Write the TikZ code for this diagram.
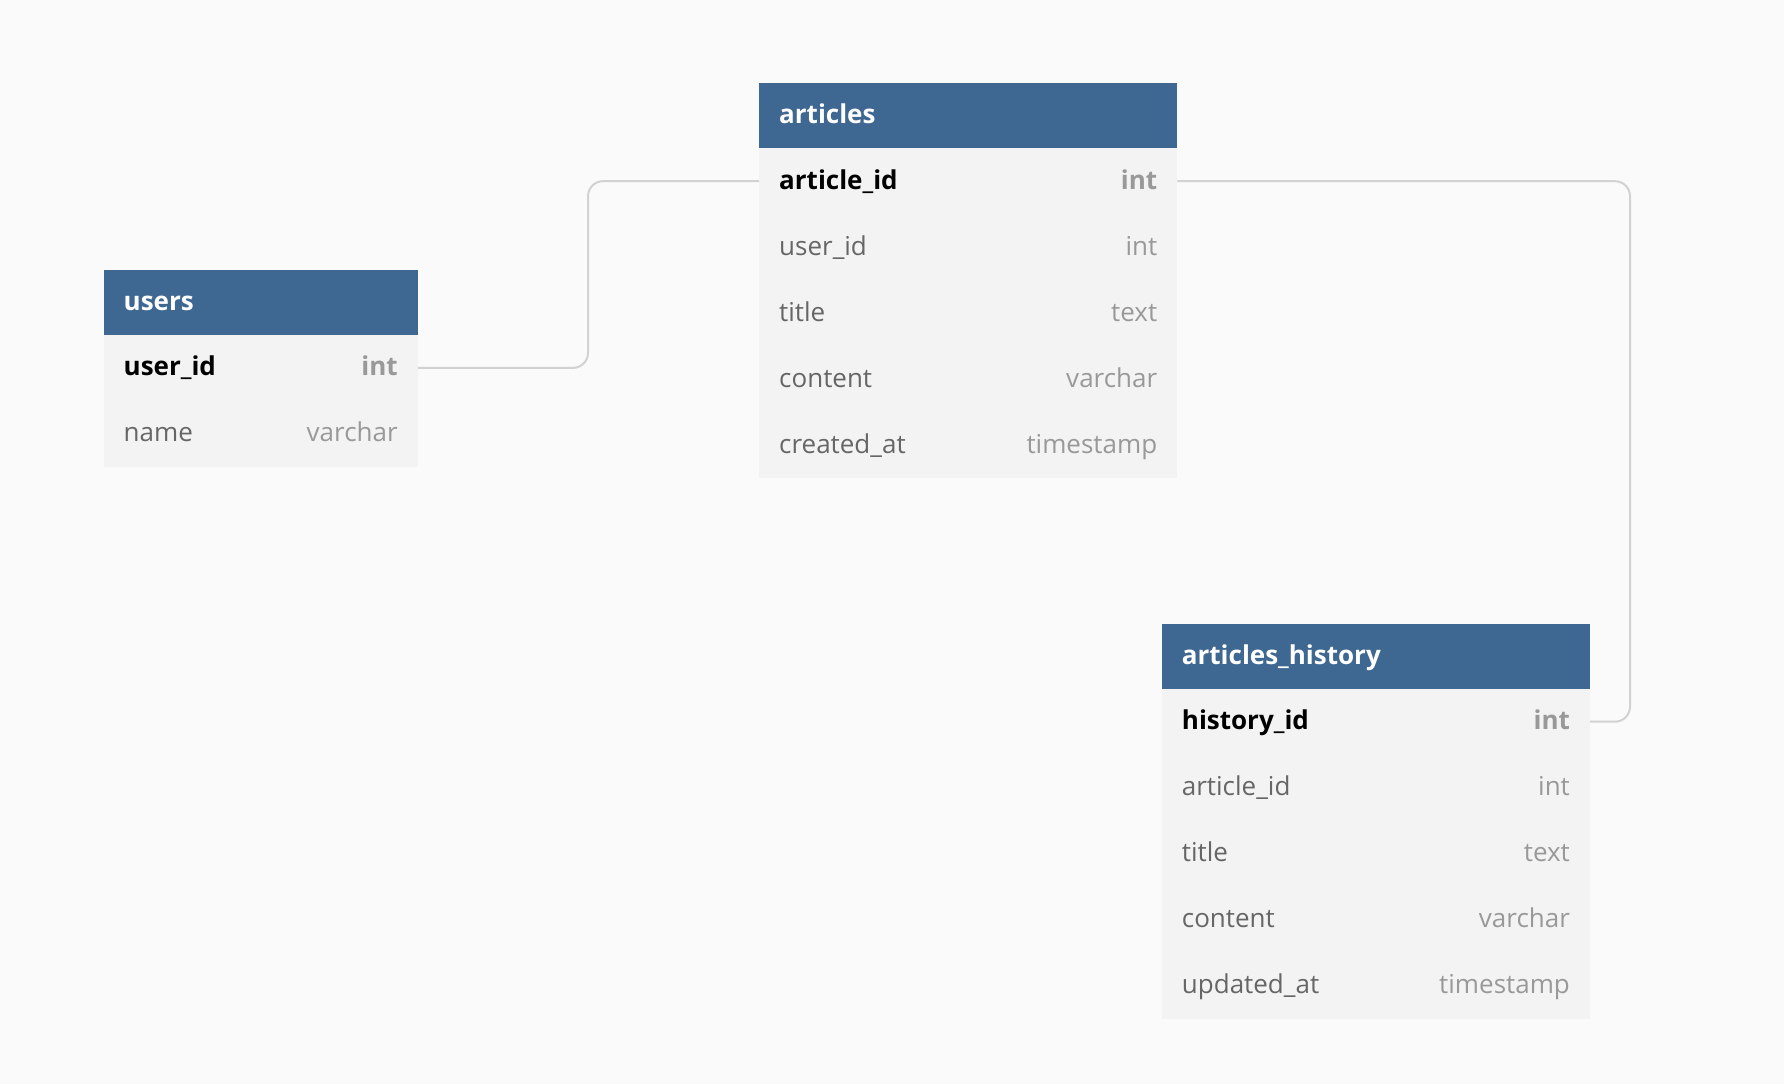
\documentclass[tikz,border=0pt]{standalone}
\usepackage{fontspec}
\setmainfont{Open Sans}
\definecolor{bgc}{HTML}{FAFAFA}
\definecolor{rowc}{HTML}{F3F3F3}
\definecolor{hdrc}{HTML}{3E6791}
\definecolor{fieldc}{HTML}{666666}
\definecolor{typec}{HTML}{999999}
\definecolor{connc}{HTML}{D2D2D2}
\tikzset{
  hdr/.style={anchor=north west, fill=hdrc, text=white, inner xsep=20pt, inner ysep=0pt,
    minimum height=65pt, text height=20pt, text depth=4pt, align=left,
    font=\fontsize{26}{30}\selectfont\bfseries},
  rowbox/.style={anchor=north west, fill=rowc, text=fieldc, inner xsep=20pt, inner ysep=0pt,
    minimum height=66pt, text height=20pt, text depth=4pt, align=left,
    font=\fontsize{26}{30}\selectfont},
  pkrow/.style={rowbox, text=black, font=\fontsize{26}{30}\selectfont\bfseries},
  conn/.style={draw=connc, line width=2pt, rounded corners=15pt}
}
\newcommand{\ty}[1]{\hfill\textcolor{typec}{#1}}
\begin{document}
\begin{tikzpicture}[x=1pt,y=-1pt]
\fill[bgc] (0,0) rectangle (1784,1084);
\useasboundingbox (0,0) rectangle (1784,1084);
% users
\node[hdr, text width=274pt] (uh) at (103.5,269.7) {users};
\node[pkrow, text width=274pt] (u1) at (103.5,334.7) {user\_id\ty{int}};
\node[rowbox, text width=274pt] (u2) at (103.5,400.7) {name\ty{varchar}};
% articles
\node[hdr, text width=378pt] (ah) at (759,83) {articles};
\node[pkrow, text width=378pt] (a1) at (759,148) {article\_id\ty{int}};
\node[rowbox, text width=378pt] (a2) at (759,214) {user\_id\ty{int}};
\node[rowbox, text width=378pt] (a3) at (759,280) {title\ty{text}};
\node[rowbox, text width=378pt] (a4) at (759,346) {content\ty{varchar}};
\node[rowbox, text width=378pt] (a5) at (759,412) {created\_at\ty{timestamp}};
% articles_history
\node[hdr, text width=388pt] (hh) at (1161.7,623.5) {articles\_history};
\node[pkrow, text width=388pt] (h1) at (1161.7,688.5) {history\_id\ty{int}};
\node[rowbox, text width=388pt] (h2) at (1161.7,754.5) {article\_id\ty{int}};
\node[rowbox, text width=388pt] (h3) at (1161.7,820.5) {title\ty{text}};
\node[rowbox, text width=388pt] (h4) at (1161.7,886.5) {content\ty{varchar}};
\node[rowbox, text width=388pt] (h5) at (1161.7,952.5) {updated\_at\ty{timestamp}};
% connectors
\coordinate (c1) at (588,0);
\coordinate (c2) at (1630,0);
\draw[conn] (u1.east) -- (u1.east -| c1) -- (a1.west -| c1) -- (a1.west);
\draw[conn] (a1.east) -- (a1.east -| c2) -- (h1.east -| c2) -- (h1.east);
\end{tikzpicture}
\end{document}
